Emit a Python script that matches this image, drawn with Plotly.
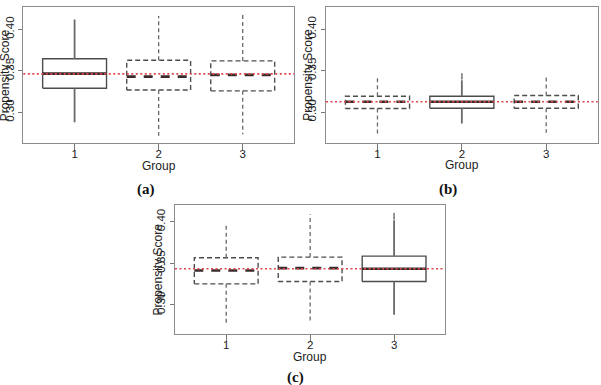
import plotly.graph_objects as go

W, H = 601, 385

# ---------------- data ----------------
groups = [1, 2, 3]
group_labels = ["1", "2", "3"]
ytick_vals = [0.30, 0.35, 0.40]
ytick_text = ["0.30", "0.35", "0.40"]

# panel (a)
a_q1 = [0.3291, 0.3269, 0.3259]
a_med = [0.3467, 0.3431, 0.3451]
a_q3 = [0.3646, 0.3627, 0.3620]
a_lo = [0.2880, 0.2716, 0.2736]
a_hi = [0.4120, 0.4160, 0.4190]
a_out = [[], [], []]
a_ref = 0.3464
a_solid = 1

# panel (b)
b_q1 = [0.3043, 0.3045, 0.3045]
b_med = [0.3124, 0.3124, 0.3124]
b_q3 = [0.3191, 0.3191, 0.3199]
b_lo = [0.2733, 0.2862, 0.2750]
b_hi = [0.3424, 0.3382, 0.3431]
b_out = [[], [0.3400, 0.3415, 0.3430, 0.3445, 0.3458], []]
b_ref = 0.3124
b_solid = 2

# panel (c)
c_q1 = [0.3250, 0.3278, 0.3278]
c_med = [0.3412, 0.3440, 0.3432]
c_q3 = [0.3565, 0.3573, 0.3585]
c_lo = [0.2766, 0.2774, 0.2876]
c_hi = [0.3956, 0.4090, 0.4017]
c_out = [[], [], [0.4035, 0.4050, 0.4065, 0.4080, 0.4097]]
c_ref = 0.3432
c_solid = 3

# ---------------- styling ----------------
HALF = 0.38
BOX_COL = "#4d4d4d"
WHISK_COL = "#6a6a6a"
MED_COL = "#3a2a2a"
REF_COL = "#e0474c"
FRAME_COL = "#8c8c8c"
TXT_COL = "#222222"
FONT = "Liberation Sans"


def X(px):
    return px / W


def Y(py):
    return 1 - py / H


fig = go.Figure()


def add_panel(xa, ya, q1, med, q3, lo, hi, out, ref, solid):
    for i, g in enumerate(groups):
        is_solid = (g == solid)
        dash_box = "solid" if is_solid else "5px,3px"
        dash_wh = "solid" if is_solid else "4px,3px"
        # box
        fig.add_trace(go.Scatter(
            x=[g - HALF, g + HALF, g + HALF, g - HALF, g - HALF],
            y=[q1[i], q1[i], q3[i], q3[i], q1[i]],
            mode="lines", line=dict(color=BOX_COL, width=1.4, dash=dash_box),
            xaxis=xa, yaxis=ya, showlegend=False, hoverinfo="skip"))
        # whiskers
        fig.add_trace(go.Scatter(
            x=[g, g, None, g, g],
            y=[q3[i], hi[i], None, q1[i], lo[i]],
            mode="lines",
            line=dict(color=WHISK_COL, width=1.8 if is_solid else 1.3, dash=dash_wh),
            xaxis=xa, yaxis=ya, showlegend=False, hoverinfo="skip"))
        # median
        fig.add_trace(go.Scatter(
            x=[g - HALF, g + HALF], y=[med[i], med[i]],
            mode="lines",
            line=dict(color=MED_COL, width=2.6, dash="solid" if is_solid else "9px,8px"),
            xaxis=xa, yaxis=ya, showlegend=False, hoverinfo="skip"))
        # outliers
        if out[i]:
            fig.add_trace(go.Scatter(
                x=[g] * len(out[i]), y=out[i], mode="markers",
                marker=dict(color="#8a8a8a", size=2),
                xaxis=xa, yaxis=ya, showlegend=False, hoverinfo="skip"))
    # reference dotted line
    fig.add_shape(type="line", xref=xa + " domain", yref=ya,
                  x0=0, x1=1, y0=ref, y1=ref, layer="above",
                  line=dict(color=REF_COL, width=1.6, dash="2px,2.5px"))


add_panel("x", "y", a_q1, a_med, a_q3, a_lo, a_hi, a_out, a_ref, a_solid)
add_panel("x2", "y2", b_q1, b_med, b_q3, b_lo, b_hi, b_out, b_ref, b_solid)
add_panel("x3", "y3", c_q1, c_med, c_q3, c_lo, c_hi, c_out, c_ref, c_solid)


def xaxis(dom, anchor):
    return dict(domain=dom, anchor=anchor, range=[0.39, 3.61],
                tickvals=groups, ticktext=group_labels,
                ticks="outside", ticklen=6, tickcolor="#777", tickwidth=1,
                ticklabelstandoff=-6,
                showline=True, mirror=True, linecolor=FRAME_COL, linewidth=1,
                showgrid=False, zeroline=False,
                tickfont=dict(size=11.5, family=FONT, color=TXT_COL))


def yaxis(dom, anchor, rng):
    return dict(domain=dom, anchor=anchor, range=rng,
                tickvals=ytick_vals, ticktext=ytick_text, tickangle=-90,
                ticks="outside", ticklen=4, tickcolor="#777", tickwidth=1,
                showline=True, mirror=True, linecolor=FRAME_COL, linewidth=1,
                showgrid=False, zeroline=False,
                tickfont=dict(size=11.5, family=FONT, color=TXT_COL))


panels = {
    "a": dict(x0=23.3, x1=294.0, y0=7.0, y1=143.0, rng=[0.263, 0.427]),
    "b": dict(x0=326.0, x1=597.7, y0=6.7, y1=142.7, rng=[0.263, 0.427]),
    "c": dict(x0=175.0, x1=445.3, y0=205.0, y1=334.0, rng=[0.2645, 0.4202]),
}
ax_names = {"a": ("x", "y", ""), "b": ("x2", "y2", "2"), "c": ("x3", "y3", "3")}

layout_axes = {}
annotations = []
for key, p in panels.items():
    xa, ya, suf = ax_names[key]
    layout_axes["xaxis" + suf] = xaxis([X(p["x0"]), X(p["x1"])], ya)
    layout_axes["yaxis" + suf] = yaxis([Y(p["y1"]), Y(p["y0"])], xa, p["rng"])
    # y title
    annotations.append(dict(
        text="Propensity Score", textangle=-90, showarrow=False,
        xref="paper", yref="paper",
        x=X(p["x0"] - 18.0), y=Y((p["y0"] + p["y1"]) / 2),
        xanchor="center", yanchor="middle",
        font=dict(size=12, family=FONT, color=TXT_COL)))
    # x title
    annotations.append(dict(
        text="Group", showarrow=False, xref="paper", yref="paper",
        x=X((p["x0"] + p["x1"]) / 2), y=Y(p["y1"] + 22.5),
        xanchor="center", yanchor="middle",
        font=dict(size=12, family=FONT, color=TXT_COL)))

captions = [("(a)", 146, 189), ("(b)", 448, 189), ("(c)", 295, 377)]
for txt, cx, cy in captions:
    annotations.append(dict(
        text="<b>" + txt + "</b>", showarrow=False, xref="paper", yref="paper",
        x=X(cx), y=Y(cy), xanchor="center", yanchor="middle",
        font=dict(size=15, family="Liberation Serif", color="#111")))

fig.update_layout(
    width=W, height=H, margin=dict(l=0, r=0, t=0, b=0),
    paper_bgcolor="white", plot_bgcolor="white",
    showlegend=False, annotations=annotations, **layout_axes)

fig.write_html("out.html")
